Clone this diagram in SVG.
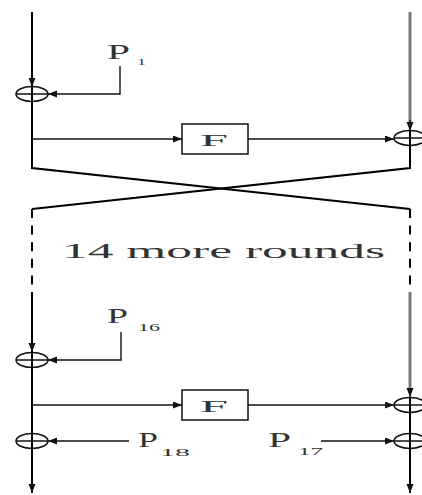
<svg xmlns="http://www.w3.org/2000/svg" width="422" height="495" viewBox="0 0 422 495">
<style>
.ln{fill:none;stroke:#111;stroke-width:1.4}
.main{fill:none;stroke:#000;stroke-width:2}
.gray{fill:none;stroke:#7a7a7a;stroke-width:3}
.dash{fill:none;stroke:#000;stroke-width:2;stroke-dasharray:9 7.6}
.xor{fill:none;stroke:#111;stroke-width:1.5}
.box{fill:#fff;stroke:#111;stroke-width:1.5}
.t{font-family:"Liberation Serif","DejaVu Serif",serif;fill:#333}
.arr{marker-end:url(#ah)}
</style>
<defs>
<marker id="ah" markerUnits="userSpaceOnUse" markerWidth="10" markerHeight="8" refX="9" refY="3.5" orient="auto">
<path d="M0,0 L9,3.5 L0,7 z" fill="#111"/>
</marker>
<g id="xorsym">
<ellipse cx="0" cy="0" rx="16" ry="7.5" class="xor"/>
<line x1="-16" y1="0" x2="16" y2="0" class="xor"/>
</g>
</defs>
<g id="connectors">
<path class="main arr" d="M32,12 V87"/>
<path class="main" d="M32,87 V168 L410,209"/>
<path class="ln arr" d="M120,66 V94 H48"/>
<path class="ln arr" d="M32,139 H182"/>
<path class="ln arr" d="M248,139 H394"/>
<path class="gray" d="M410,12 V122"/>
<path class="ln arr" d="M410,120 V131"/>
<path class="main" d="M410,131 V168 L32,209"/>
<path class="dash" d="M32,209 V292"/>
<path class="dash" d="M410,209 V292"/>
<path class="main arr" d="M32,292 V352"/>
<path class="main arr" d="M32,352 V493"/>
<path class="ln arr" d="M121,332 V360 H48"/>
<path class="ln arr" d="M32,405 H182"/>
<path class="ln arr" d="M129,441 H48"/>
<path class="gray" d="M410,292 V390"/>
<path class="ln arr" d="M410,388 V397"/>
<path class="main arr" d="M410,397 V493"/>
<path class="ln arr" d="M248,405 H394"/>
<path class="ln arr" d="M321,441 H394"/>
</g>
<g id="xor1"><use href="#xorsym" x="32" y="94"/></g>
<g id="xor2"><use href="#xorsym" x="410" y="138"/></g>
<g id="xor3"><use href="#xorsym" x="32" y="360"/></g>
<g id="xor4"><use href="#xorsym" x="410" y="405"/></g>
<g id="xor5"><use href="#xorsym" x="32" y="441"/></g>
<g id="xor6"><use href="#xorsym" x="410" y="441"/></g>
<g id="F1">
<rect class="box" x="182" y="124" width="66" height="30"/>
<text class="t" x="214" y="146" font-size="16" text-anchor="middle" textLength="28" lengthAdjust="spacingAndGlyphs">F</text>
</g>
<g id="F2">
<rect class="box" x="182" y="390" width="66" height="30"/>
<text class="t" x="214" y="412" font-size="16" text-anchor="middle" textLength="28" lengthAdjust="spacingAndGlyphs">F</text>
</g>
<g id="P1">
<text class="t" x="107" y="59" font-size="20" textLength="23" lengthAdjust="spacingAndGlyphs">P</text>
<text class="t" x="137" y="65" font-size="9" textLength="9" lengthAdjust="spacingAndGlyphs">1</text>
</g>
<g id="P16">
<text class="t" x="107" y="323" font-size="20" textLength="21" lengthAdjust="spacingAndGlyphs">P</text>
<text class="t" x="138" y="331" font-size="11" textLength="22" lengthAdjust="spacingAndGlyphs">16</text>
</g>
<g id="P18">
<text class="t" x="138" y="447" font-size="20" textLength="20" lengthAdjust="spacingAndGlyphs">P</text>
<text class="t" x="160" y="456" font-size="11" textLength="30" lengthAdjust="spacingAndGlyphs">18</text>
</g>
<g id="P17">
<text class="t" x="268" y="447" font-size="20" textLength="23" lengthAdjust="spacingAndGlyphs">P</text>
<text class="t" x="298" y="455" font-size="11" textLength="25" lengthAdjust="spacingAndGlyphs">17</text>
</g>
<g id="more">
<text class="t" x="62" y="258" font-size="20" textLength="323" lengthAdjust="spacingAndGlyphs">14 more rounds</text>
</g>
</svg>
